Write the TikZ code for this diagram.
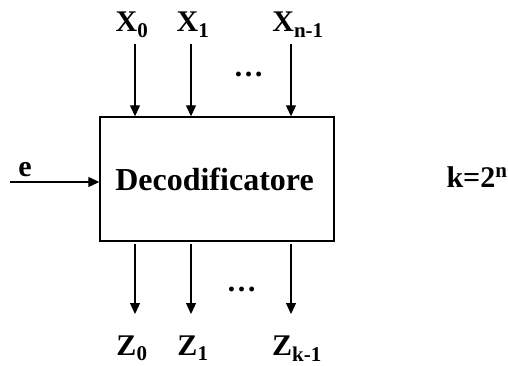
\documentclass[tikz,border=0pt]{standalone}
\usepackage{fontspec}
\setmainfont{Liberation Serif}
\usetikzlibrary{arrows.meta}
\begin{document}
\begin{tikzpicture}[x=1pt,y=1pt,
  lbl/.style={font=\bfseries\fontsize{30}{32}\selectfont, inner sep=0pt, anchor=base},
  big/.style={font=\bfseries\fontsize{32}{36}\selectfont, inner sep=0pt, anchor=base},
  arr/.style={line width=1.2pt, -{Triangle[length=11pt,width=10pt]}},
  blk/.style={draw, line width=1.4pt, minimum width=234pt, minimum height=124pt, inner sep=0pt}]
\useasboundingbox (0,0) rectangle (508,365);
% box
\node[blk] (dec) at (217,186) {};
\node[big] (dectxt) at (214.5,175) {Decodificatore};
% top inputs
\node[lbl] (x0) at (132,333) {X\textsubscript{0}};
\node[lbl] (x1) at (193,333) {X\textsubscript{1}};
\node[lbl] (xn) at (298,333) {X\textsubscript{n-1}};
\coordinate (tx0) at (135,321);
\coordinate (tx1) at (191,321);
\coordinate (txn) at (291,321);
\draw[arr] (tx0) -- (tx0 |- dec.north);
\draw[arr] (tx1) -- (tx1 |- dec.north);
\draw[arr] (txn) -- (txn |- dec.north);
\node[lbl] (dtop) at (248.5,288) {…};
% bottom outputs
\coordinate (bz0) at (135,51);
\coordinate (bz1) at (191,51);
\coordinate (bzk) at (291,51);
\draw[arr] (dec.south -| bz0) ++(0,-2) -- (bz0);
\draw[arr] (dec.south -| bz1) ++(0,-2) -- (bz1);
\draw[arr] (dec.south -| bzk) ++(0,-2) -- (bzk);
\node[lbl] (z0) at (132,10) {Z\textsubscript{0}};
\node[lbl] (z1) at (193,10) {Z\textsubscript{1}};
\node[lbl] (zk) at (297,10) {Z\textsubscript{k-1}};
\node[lbl] (dbot) at (241.5,74) {…};
% enable
\coordinate (ein) at (10,183);
\draw[arr] (ein) -- (ein -| dec.west);
\node[lbl] (e) at (25,189) {e};
% k = 2^n
\node[lbl] (k) at (477,178) {k=2\textsuperscript{n}};
\end{tikzpicture}
\end{document}
